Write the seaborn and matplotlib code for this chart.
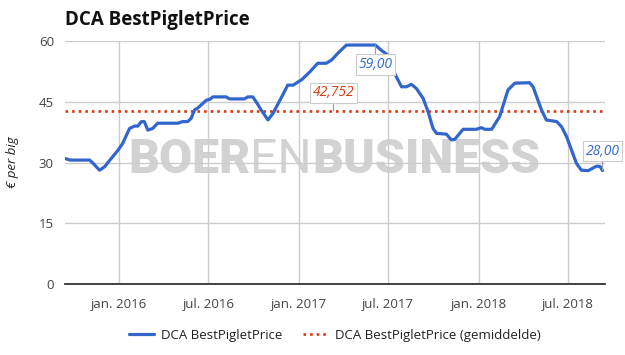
import matplotlib
matplotlib.use("Agg")
import matplotlib.pyplot as plt
import seaborn as sns
import pandas as pd

# ---- data ----
dates = ["2015-09-14","2015-09-24","2015-11-03","2015-11-10","2015-11-23","2015-12-04","2015-12-14",
         "2015-12-31","2016-01-09","2016-01-23","2016-02-02","2016-02-09","2016-02-16","2016-02-22",
         "2016-02-29","2016-03-10","2016-03-20","2016-04-30","2016-05-10","2016-05-20","2016-05-27",
         "2016-06-03","2016-06-10","2016-06-27","2016-07-04","2016-07-10","2016-08-06","2016-08-13",
         "2016-09-12","2016-09-19","2016-09-29","2016-10-06","2016-10-16","2016-10-30","2016-11-09",
         "2016-11-29","2016-12-09","2016-12-20","2016-12-30","2017-01-06","2017-01-23","2017-02-08",
         "2017-02-25","2017-03-08","2017-03-21","2017-04-07","2017-06-05","2017-06-16","2017-06-27",
         "2017-07-06","2017-07-14","2017-07-28","2017-08-07","2017-08-17","2017-08-27","2017-09-10",
         "2017-09-20","2017-09-30","2017-10-07","2017-10-27","2017-11-06","2017-11-13","2017-11-30",
         "2017-12-27","2018-01-06","2018-01-13","2018-01-27","2018-02-12","2018-03-01","2018-03-15",
         "2018-04-14","2018-04-21","2018-05-08","2018-05-18","2018-06-08","2018-06-18","2018-06-28",
         "2018-07-18","2018-07-28","2018-08-11","2018-08-28","2018-09-04","2018-09-09"]
prices = [31.0,30.6,30.6,29.8,28.1,29.0,30.6,
          33.1,34.7,38.4,39.0,39.0,40.1,40.1,
          38.0,38.4,39.7,39.7,40.1,40.1,40.9,
          43.0,43.5,45.4,45.6,46.2,46.2,45.7,
          45.7,46.2,46.2,45.0,43.0,40.5,42.1,
          46.7,49.1,49.1,49.9,50.4,52.4,54.5,
          54.5,55.3,57.0,59.0,59.0,57.8,56.8,
          56.0,52.0,48.7,48.7,49.3,48.3,45.8,
          42.5,38.4,37.2,37.0,35.6,35.7,38.2,
          38.2,38.6,38.2,38.2,41.3,47.9,49.6,
          49.7,48.7,43.0,40.5,40.1,38.8,36.4,
          29.8,28.1,28.0,29.1,29.0,28.0]
average = 42.752
series_name = "DCA BestPigletPrice"
avg_name = "DCA BestPigletPrice (gemiddelde)"
y_ticks = [0, 15, 30, 45, 60]
x_tick_dates = ["2016-01-01","2016-07-01","2017-01-01","2017-07-01","2018-01-01","2018-07-01"]
x_tick_labels = ["jan. 2016","jul. 2016","jan. 2017","jul. 2017","jan. 2018","jul. 2018"]
max_label = ("2017-06-05", 59.0, "59,00")
last_label = ("2018-09-09", 28.0, "28,00")
avg_label_date = "2017-03-12"

df = pd.DataFrame({"date": pd.to_datetime(dates), "price": prices})

sns.set_theme(style="white")
FONT = ["Open Sans", "DejaVu Sans"]
plt.rcParams["font.family"] = FONT

BLUE = "#3366cc"
RED = "#dc3912"
GRID = "#cccccc"
TXT = "#444444"

fig = plt.figure(figsize=(6.25, 3.55), dpi=100)
ax = fig.add_axes([65/625, 1 - 284/355, 540/625, 243/355])

sns.lineplot(data=df, x="date", y="price", ax=ax, color=BLUE, linewidth=2.3,
             label=series_name, zorder=4, solid_joinstyle="round", solid_capstyle="round")
ax.axhline(average, color=RED, linewidth=1.9, linestyle=(0, (1, 1.5)),
           dash_capstyle="butt", label=avg_name, zorder=3)

ax.set_ylim(0, 60)
ax.set_xlim(pd.Timestamp("2015-09-14"), pd.Timestamp("2018-09-14"))
ax.set_yticks(y_ticks)
ax.set_yticklabels([str(v) for v in y_ticks])
ax.set_xticks(pd.to_datetime(x_tick_dates))
ax.set_xticklabels(x_tick_labels)
ax.grid(True, color=GRID, linewidth=1.0)
ax.set_axisbelow(True)
for s in ["left", "right", "top"]:
    ax.spines[s].set_visible(False)
ax.spines["bottom"].set_color("#333333")
ax.spines["bottom"].set_linewidth(1.3)
ax.spines["bottom"].set_zorder(5)
ax.tick_params(axis="both", length=0, labelsize=9.5, colors=TXT, pad=8)
ax.tick_params(axis="x", pad=10)
ax.set_xlabel("")
ax.set_ylabel("€ per big", fontsize=9.5, style="italic", color="#222222", labelpad=14)

fig.text(65/625, 1 - 20/355, "DCA BestPigletPrice", fontsize=13.5, fontweight="bold",
         color="#111111", va="center", ha="left")

# watermark (behind the grid)
wm_y = 0.5 * ((1 - 142/355) + (1 - 178/355))
wm_color = "#d2d2d2"
fig.canvas.draw()
r = fig.canvas.get_renderer()
parts = [("BOER", "black"), ("EN", "normal"), ("BUSINESS", "black")]
wm_texts = []
x_px = 0
for txt, w in parts:
    t = ax.text(0, wm_y, txt, fontsize=36, fontweight=w, color=wm_color,
                va="center", ha="left", zorder=0.2, transform=fig.transFigure,
                family=["Roboto", "DejaVu Sans"])
    ext = t.get_window_extent(renderer=r)
    wm_texts.append(t)
    x_px += ext.width
start, end = 128, 540
scale = (end - start) / x_px
if scale < 1:
    for t in wm_texts:
        t.set_fontsize(36 * scale)
fig.canvas.draw()
x_px = start
for t in wm_texts:
    t.set_x(x_px / 625)
    x_px += t.get_window_extent(renderer=r).width

box = dict(boxstyle="square,pad=0.2", fc="white", ec="#cccccc", lw=0.8)
ap = dict(arrowstyle="-", color="#999999", lw=0.8, shrinkA=0, shrinkB=0)
ax.annotate(max_label[2], xy=(pd.Timestamp(max_label[0]), max_label[1]), xytext=(0, -14),
            textcoords="offset points", ha="center", va="center", fontsize=10, style="italic",
            color=BLUE, bbox=box, arrowprops=ap, zorder=6, annotation_clip=False)
ax.annotate(last_label[2], xy=(pd.Timestamp(last_label[0]), last_label[1]), xytext=(0, 14),
            textcoords="offset points", ha="center", va="center", fontsize=10, style="italic",
            color=BLUE, bbox=box, arrowprops=ap, zorder=6, annotation_clip=False)
ax.annotate(f"{average:.3f}".replace(".", ","), xy=(pd.Timestamp(avg_label_date), average),
            xytext=(0, 13), textcoords="offset points", ha="center", va="center", fontsize=10,
            style="italic", color=RED, bbox=box, arrowprops=ap, zorder=6, annotation_clip=False)

leg = ax.legend(loc="upper center", bbox_to_anchor=(0.5, -0.135), ncol=2, frameon=False,
                fontsize=9.5, handlelength=1.9, columnspacing=1.6, handletextpad=0.5)
for t in leg.get_texts():
    t.set_color("#222222")

fig.savefig("out.png", dpi=100)
